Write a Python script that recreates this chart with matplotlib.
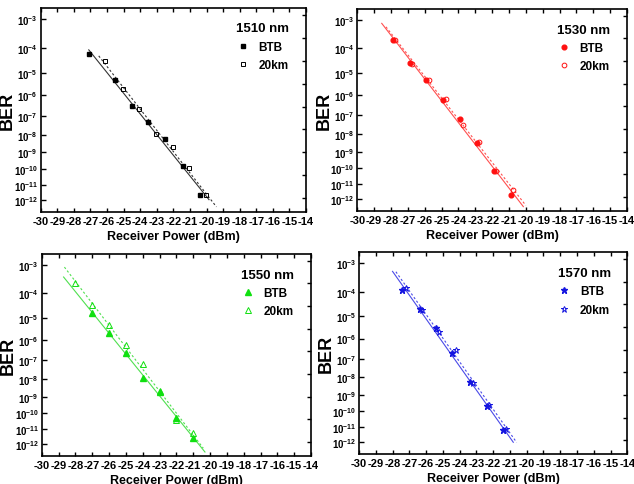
import math
import numpy as np
import matplotlib
matplotlib.use("Agg")
import matplotlib.pyplot as plt
from matplotlib.ticker import NullFormatter, NullLocator

plt.rcParams["font.family"] = ["Liberation Sans", "DejaVu Sans"]
plt.rcParams["font.weight"] = "bold"
plt.rcParams["axes.unicode_minus"] = False
plt.rcParams["mathtext.fontset"] = "custom"
plt.rcParams["mathtext.rm"] = "Liberation Sans:bold"
plt.rcParams["mathtext.bf"] = "Liberation Sans:bold"
plt.rcParams["mathtext.it"] = "Liberation Sans:bold"

# data (received power in dBm, BER)
titles = ["1510 nm", "1530 nm", "1550 nm", "1570 nm"]

btb_1510_x = [-27.1, -25.5, -24.5, -23.5, -22.5, -21.4, -20.4]
btb_1510_y = [6e-5, 5e-6, 3e-7, 4.6e-8, 5.6e-9, 1.6e-10, 2.2e-12]
km20_1510_x = [-26.1, -25.05, -24.05, -23.05, -22.05, -21.05, -20.05]
km20_1510_y = [3.2e-5, 1.9e-6, 2.1e-7, 1.05e-8, 1.95e-9, 1.1e-10, 2.2e-12]

btb_1530_x = [-27.9, -26.9, -25.9, -24.9, -23.9, -22.9, -21.9, -20.9]
btb_1530_y = [2.1e-4, 2.6e-5, 5e-6, 5.7e-7, 6.8e-8, 3e-9, 6.9e-11, 1.8e-12]
km20_1530_x = [-27.77, -26.74, -25.73, -24.74, -23.75, -22.77, -21.78, -20.77]
km20_1530_y = [2.1e-4, 2.5e-5, 5e-6, 6.6e-7, 3e-8, 3.6e-9, 6.5e-11, 4e-12]

btb_1550_x = [-27, -26, -25, -24, -23, -22, -21]
btb_1550_y = [1.7e-5, 2.2e-6, 2.3e-7, 1.2e-8, 1.8e-9, 5.1e-11, 2.6e-12]
km20_1550_x = [-28, -27, -26, -25, -24, -23, -22, -21]
km20_1550_y = [2.4e-4, 3.5e-5, 5.2e-6, 6e-7, 6.9e-8, 2.2e-9, 3.5e-11, 5.2e-12]

btb_1570_x = [-27.42, -26.38, -25.41, -24.43, -23.4, -22.39, -21.39]
btb_1570_y = [1.2e-4, 2e-5, 3e-6, 2e-7, 5.6e-9, 2.3e-10, 6.8e-12]
km20_1570_x = [-27.22, -26.22, -25.23, -24.19, -23.2, -22.23, -21.23]
km20_1570_y = [1.4e-4, 1.8e-5, 2.1e-6, 2.8e-7, 4.7e-9, 2.5e-10, 7.9e-12]

# extent of the fitted lines (dBm)
fit_btb_range = [(-27.1, -19.85), (-28.55, -20.15), (-28.7, -20.3), (-28.0, -20.8)]
fit_20km_range = [(-26.5, -19.4), (-28.3, -20.0), (-28.65, -20.4), (-27.8, -20.6)]

# Q-factor scale for the BER axis
_q = np.linspace(0, 12, 6001)
_logber = np.log10(0.5 * np.array([math.erfc(v / math.sqrt(2)) for v in _q]))
_erfc = np.vectorize(math.erfc, otypes=[float])


def ber_to_q(b):
    b = np.clip(np.asarray(b, dtype=float), 1e-30, 0.5)
    return np.interp(np.log10(b), _logber[::-1], _q[::-1])


def q_to_ber(q):
    return 0.5 * _erfc(np.asarray(q, dtype=float) / math.sqrt(2))


def fwd(b):
    return -ber_to_q(b)


def inv(y):
    return q_to_ber(-np.asarray(y, dtype=float))


panels = [
    (btb_1510_x, btb_1510_y, km20_1510_x, km20_1510_y, "s", 3.2, "black", "#333333"),
    (btb_1530_x, btb_1530_y, km20_1530_x, km20_1530_y, "o", 3.4, "#ff1010", "#ff5050"),
    (btb_1550_x, btb_1550_y, km20_1550_x, km20_1550_y, "^", 4.2, "#10e010", "#50e050"),
    (btb_1570_x, btb_1570_y, km20_1570_x, km20_1570_y, "*", 5.0, "#1515e0", "#4a4ae8"),
]

# axes boxes in pixels: left, top, right, bottom
boxes = [(40.7, 9, 306, 213), (357.3, 10, 627, 211.7),
         (41.7, 255, 311, 456.7), (359, 253.3, 627.3, 455)]

W, H = 634, 485
fig = plt.figure(figsize=(W / 100, H / 100), dpi=100)

decades = [10.0 ** -k for k in range(3, 13)]
dec_labels = [r"$\mathbf{10^{-%d}}$" % k for k in range(3, 13)]
ylo, yhi = float(q_to_ber(7.30)), float(q_to_ber(2.85))

for i, (bx, by, kx, ky, mk, ms, col, lcol) in enumerate(panels):
    l, t, r, b = boxes[i]
    ax = fig.add_axes([l / W, 1 - b / H, (r - l) / W, (b - t) / H])
    ax.set_yscale("function", functions=(fwd, inv))
    ax.set_xlim(-30, -14)
    ax.set_ylim(ylo, yhi)

    # linear fits in Q space
    for xs, ys, rng, ls in [(bx, by, fit_btb_range[i], "-"), (kx, ky, fit_20km_range[i], (0, (2, 2)))]:
        p = np.polyfit(xs, ber_to_q(ys), 1)
        xx = np.linspace(rng[0], rng[1], 50)
        ax.plot(xx, q_to_ber(np.polyval(p, xx)), color=lcol, lw=0.8, ls=ls)

    ax.plot(bx, by, ls="none", marker=mk, ms=ms, color=col, mec=col, label="BTB")
    ax.plot(kx, ky, ls="none", marker=mk, ms=ms, mfc="none", mec=col, mew=0.7, label="20km")

    ax.set_xticks(range(-30, -13))
    ax.set_yticks(decades)
    ax.set_yticklabels(dec_labels)
    ax.yaxis.set_minor_locator(NullLocator())
    ax.tick_params(axis="x", direction="in", top=True, length=3, width=1, labelsize=8, pad=3)
    ax.tick_params(axis="y", direction="in", left=True, right=False, length=3.5, width=1,
                   labelsize=7, pad=2)
    for s in ax.spines.values():
        s.set_linewidth(1.2)

    ax2 = ax.twinx()
    ax2.set_yscale("function", functions=(fwd, inv))
    ax2.set_ylim(ylo, yhi)
    ax2.set_yticks(q_to_ber(np.arange(3.0, 7.01, 0.5)))
    ax2.yaxis.set_major_formatter(NullFormatter())
    ax2.yaxis.set_minor_locator(NullLocator())
    ax2.tick_params(axis="y", direction="in", length=3, width=1)
    for s in ax2.spines.values():
        s.set_visible(False)

    ax.set_xlabel("Receiver Power (dBm)", fontsize=9, fontweight="bold")
    ax.xaxis.set_label_coords(0.5, -0.09)
    ax.set_ylabel("BER", fontsize=13, fontweight="bold", va="center")
    ax.yaxis.set_label_coords(-33.0 / (r - l), 0.5)

    leg = ax.legend(title=titles[i], loc="upper right", frameon=False, fontsize=8.5,
                    title_fontproperties={"size": 9.5, "weight": "bold"},
                    handlelength=1.0, handletextpad=0.8, labelspacing=0.55,
                    borderaxespad=1.0, bbox_to_anchor=(1, 1.01))

fig.savefig("out.png", dpi=100)
